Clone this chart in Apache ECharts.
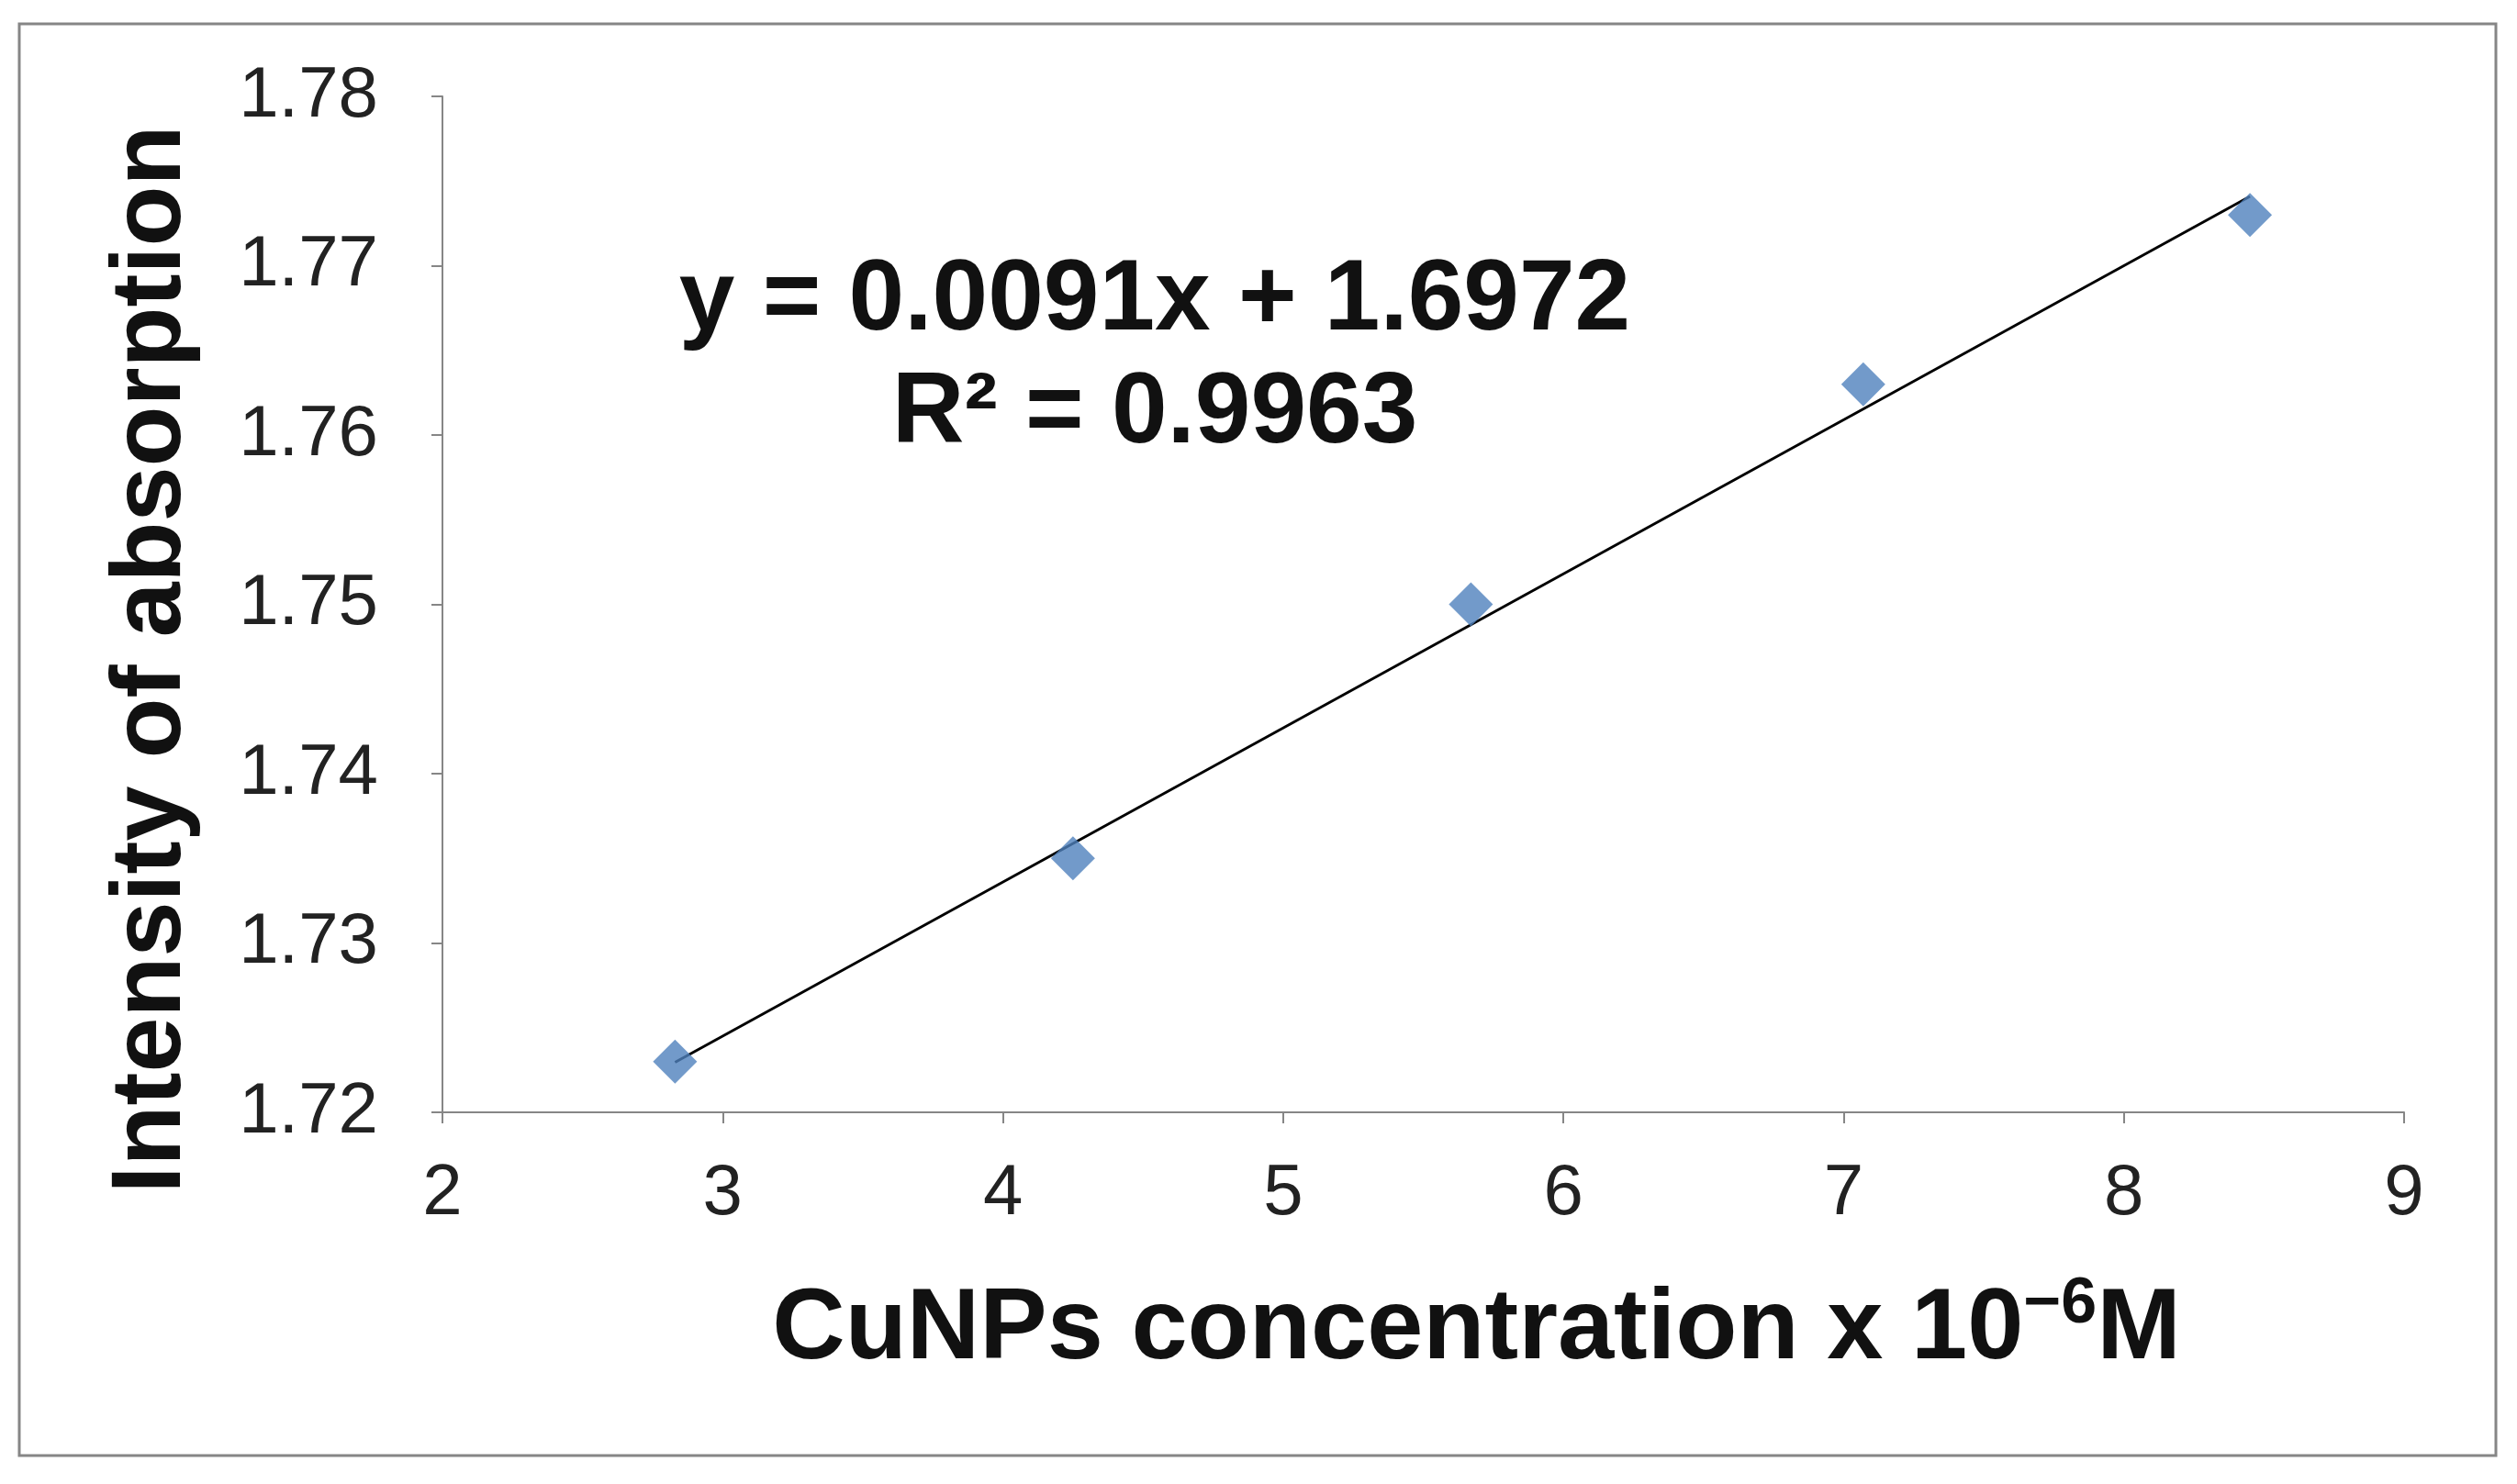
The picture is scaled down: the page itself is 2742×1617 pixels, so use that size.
<!DOCTYPE html>
<html>
<head>
<meta charset="utf-8">
<script src="https://cdn.jsdelivr.net/npm/echarts@6/dist/echarts.min.js"></script>
<style>
  html, body { margin: 0; padding: 0; background: #fff; }
  #chart { width: 2742px; height: 1617px; }
</style>
</head>
<body>
<div id="chart"></div>
<script>
// data
var concX = [2.83, 4.25, 5.67, 7.07, 8.45];
var absorb = [1.723, 1.735, 1.750, 1.763, 1.773];
var slope = 0.0091, intercept = 1.6972;
var trendX = [2.83, 8.45];
var eqLines = ['y = 0.0091x + 1.6972', 'R² = 0.9963'];

var myChart = echarts.init(document.getElementById('chart'));
var font = 'Liberation Sans, Arial, sans-serif';

var option = {
  backgroundColor: '#fff',
  animation: false,
  grid: { left: 482, right: 123, top: 105, bottom: 405 },
  xAxis: {
    type: 'value', min: 2, max: 9, interval: 1,
    axisLine: { lineStyle: { color: '#868686', width: 2 } },
    axisTick: { length: 12, lineStyle: { color: '#868686', width: 2 } },
    splitLine: { show: false },
    axisLabel: { color: '#222', fontSize: 78, fontFamily: font, margin: 50 },
    name: '{n|CuNPs concentration x 10}{s|−6}{n|M}',
    nameLocation: 'middle', nameGap: 175,
    nameTextStyle: {
      padding: [0, 0, 0, 116],
      rich: {
        n: { fontSize: 110, fontWeight: 'bold', fontFamily: font, color: '#111' },
        s: { fontSize: 70, fontWeight: 'bold', fontFamily: font, color: '#111', verticalAlign: 'top', padding: [0, 0, 56, 0] }
      }
    }
  },
  yAxis: {
    type: 'value', min: 1.72, max: 1.78, interval: 0.01,
    axisLine: { show: true, lineStyle: { color: '#868686', width: 2 } },
    axisTick: { show: true, length: 12, lineStyle: { color: '#868686', width: 2 } },
    splitLine: { show: false },
    axisLabel: { color: '#222', fontSize: 78, fontFamily: font, margin: 70,
      formatter: function (v) { return v.toFixed(2); } },
    name: 'Intensity of absorption',
    nameLocation: 'middle', nameGap: 262,
    nameTextStyle: { fontSize: 108, fontWeight: 'bold', fontFamily: font, color: '#111',
      padding: [0, 120, 0, 0] }
  },
  series: [
    {
      type: 'line',
      data: trendX.map(function (x) { return [x, slope * x + intercept]; }),
      symbol: 'none',
      lineStyle: { color: '#000', width: 3 },
      z: 2
    },
    {
      type: 'scatter',
      data: concX.map(function (x, i) { return [x, absorb[i]]; }),
      symbol: 'diamond', symbolSize: [48, 48],
      itemStyle: { color: '#4F81BD' },
      z: 3
    }
  ],
  graphic: [
    { type: 'rect', shape: { x: 21, y: 26, width: 2698, height: 1560 },
      style: { fill: 'none', stroke: '#868686', lineWidth: 3 } },
    { type: 'text', x: 1258, y: 329, style: {
      text: eqLines[0], fill: '#111', font: 'bold 109px ' + font,
      textAlign: 'center', textVerticalAlign: 'middle' } },
    { type: 'text', x: 1258, y: 452, style: {
      text: eqLines[1], fill: '#111', font: 'bold 109px ' + font,
      textAlign: 'center', textVerticalAlign: 'middle' } }
  ]
};
myChart.setOption(option);
</script>
</body>
</html>
